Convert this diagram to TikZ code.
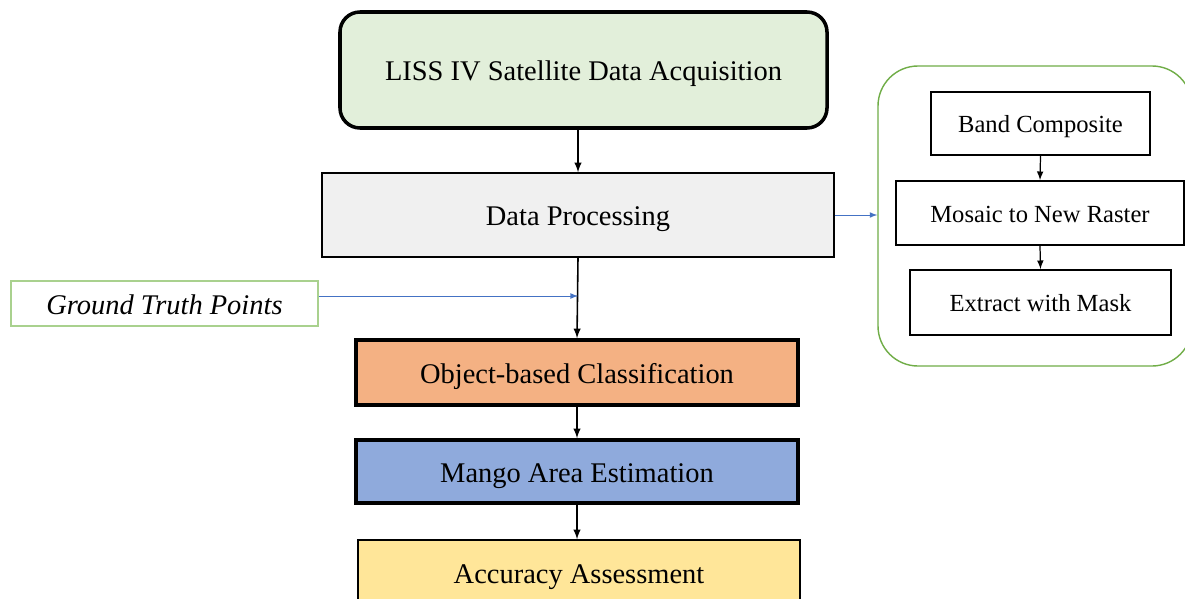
\documentclass[tikz,border=0pt]{standalone}
\usepackage{fontspec}
\setmainfont{Liberation Serif}
\usepackage{tikz}
\usetikzlibrary{calc}
\usetikzlibrary{arrows}

\definecolor{accgreen}{HTML}{E2EFDA}
\definecolor{procgrey}{HTML}{F0F0F0}
\definecolor{classorange}{HTML}{F4B183}
\definecolor{mangoblue}{HTML}{8FAADC}
\definecolor{accyellow}{HTML}{FFE699}
\definecolor{gtpgreen}{HTML}{A9D18E}
\definecolor{grpgreen}{HTML}{70AD47}
\definecolor{linkblue}{HTML}{4472C4}

\tikzset{
	bigbox/.style={draw=black, inner sep=0pt, align=center, text height=13pt, text depth=1pt, font=\fontsize{16.2}{19}\selectfont},
	thickbox/.style={bigbox, line width=2pt},
	thinbox/.style={bigbox, line width=0.8pt},
	subbox/.style={draw=black, line width=1pt, fill=white, inner sep=0pt, text height=11.5pt, text depth=1pt, font=\fontsize{14}{17}\selectfont},
	flow/.style={-latex, line width=0.9pt, black},
	link/.style={-latex, line width=0.5pt, linkblue},
}

\begin{document}
\begin{tikzpicture}
			\useasboundingbox (0,0) rectangle (23.70,-11.98);
			\clip (0,0) rectangle (23.70,-11.98);
			\fill[white] (0,0) rectangle (23.70,-11.98);

			% main column
			\node[thickbox, fill=accgreen, rounded corners=0.4cm, minimum width=9.74cm, minimum height=2.32cm] (liss) at (11.67,-1.40) {LISS IV Satellite Data Acquisition};
			\node[thinbox, fill=procgrey, minimum width=10.24cm, minimum height=1.68cm] (proc) at (11.56,-4.30) {Data Processing};
			\node[thickbox, fill=classorange, minimum width=8.84cm, minimum height=1.30cm] (obc) at (11.54,-7.45) {Object-based Classification};
			\node[thickbox, fill=mangoblue, minimum width=8.84cm, minimum height=1.26cm] (mango) at (11.54,-9.43) {Mango Area Estimation};
			\node[thinbox, fill=accyellow, minimum width=8.84cm, minimum height=1.30cm] (acc) at (11.58,-11.45) {Accuracy Assessment};

			% ground truth input
			\node[draw=gtpgreen, line width=0.6pt, inner sep=0pt, minimum width=6.14cm, minimum height=0.9cm, text height=13pt, text depth=1pt, font=\fontsize{16.2}{19}\selectfont\itshape] (gtp) at (3.29,-6.07) {Ground Truth Points};

			% processing steps
			\node[draw=grpgreen, line width=0.8pt, rounded corners=0.8cm, minimum width=6.28cm, minimum height=6.0cm] (grp) at (20.70,-4.32) {};
			\node[subbox, minimum width=4.38cm, minimum height=1.26cm] (band) at (20.81,-2.47) {Band Composite};
			\node[subbox, minimum width=5.76cm, minimum height=1.28cm] (mosaic) at (20.80,-4.26) {Mosaic to New Raster};
			\node[subbox, minimum width=5.22cm, minimum height=1.30cm] (mask) at (20.81,-6.05) {Extract with Mask};

			\coordinate (gtpout) at ($(gtp.east)+(0,0.15)$);

			\draw[flow] (proc.north |- liss.south) -- (proc.north);
			\draw[flow] (proc.south) -- (obc.north);
			\draw[flow] (obc.south) -- (mango.north);
			\draw[flow] (mango.south) -- (acc.north -| mango.south);
			\draw[link] (gtpout) -- (gtpout -| proc.south);
			\draw[link] (proc.east) -- (grp.west |- proc.east);

			\draw[flow, line width=0.7pt] (band.south) -- (mosaic.north);
			\draw[flow, line width=0.7pt] (mosaic.south) -- (mask.north);

		\end{tikzpicture}
\end{document}
